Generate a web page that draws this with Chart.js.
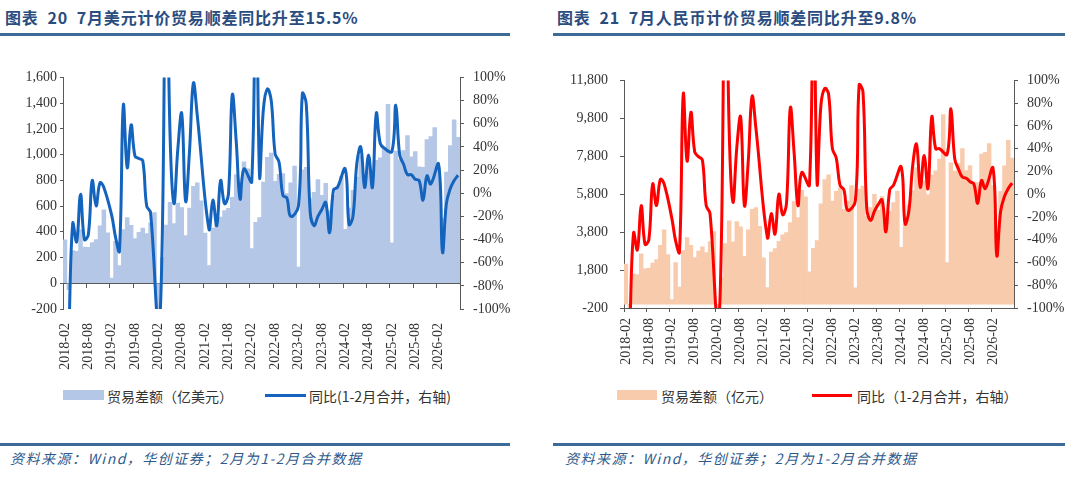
<!DOCTYPE html>
<html lang="zh-CN">
<head>
<meta charset="utf-8">
<title>贸易顺差同比</title>
<script src="https://cdn.jsdelivr.net/npm/chart.js@4.4.1/dist/chart.umd.min.js"></script>
<style>
  html, body { margin: 0; padding: 0; background: #fff; }
  body { width: 1080px; height: 488px; position: relative; overflow: hidden;
         font-family: "Noto Sans CJK SC", sans-serif; }
  .abs { position: absolute; }
  .title { top: 7px; font-size: 16px; font-weight: bold; color: #2B4C7E;
           letter-spacing: 0.8px; white-space: nowrap; line-height: 20px; }
  .rule { height: 3px; background: #3D6A97; }
  .lg-text { top: 388px; font-size: 14px; color: #333; line-height: 16px; white-space: nowrap; }
  .source { top: 449px; font-size: 14px; font-style: italic; color: #2F5A8C;
            letter-spacing: 1.5px; white-space: nowrap; line-height: 18px; }
  canvas { position: absolute; top: 60px; }
</style>
</head>
<body>

<div class="abs title" style="left:5px;">图表&nbsp;&nbsp;20&nbsp;&nbsp;7月美元计价贸易顺差同比升至15.5%</div>
<div class="abs rule" style="left:0; top:33px; width:510px;"></div>
<canvas id="usdChart" width="530" height="310" style="left:0;"></canvas>
<div class="abs" style="left:63px; top:390px; width:41px; height:10px; background:#B4C7E7;"></div>
<div class="abs lg-text" style="left:107px;">贸易差额（亿美元）</div>
<div class="abs" style="left:265px; top:394px; width:41px; height:3px; background:#1464BE;"></div>
<div class="abs lg-text" style="left:309px;">同比(1-2月合并，右轴)</div>
<div class="abs rule" style="left:0; top:443px; width:510px;"></div>
<div class="abs source" style="left:10px;">资料来源：Wind，华创证券；2月为1-2月合并数据</div>

<div class="abs title" style="left:557px;">图表&nbsp;&nbsp;21&nbsp;&nbsp;7月人民币计价贸易顺差同比升至9.8%</div>
<div class="abs rule" style="left:553px; top:33px; width:512px;"></div>
<canvas id="cnyChart" width="530" height="310" style="left:540px;"></canvas>
<div class="abs" style="left:617px; top:390px; width:40px; height:10px; background:#F8CBAD;"></div>
<div class="abs lg-text" style="left:661px;">贸易差额（亿元）</div>
<div class="abs" style="left:812px; top:394px; width:40px; height:3px; background:#FF0000;"></div>
<div class="abs lg-text" style="left:857px;">同比（1-2月合并，右轴）</div>
<div class="abs rule" style="left:553px; top:443px; width:512px;"></div>
<div class="abs source" style="left:565px;">资料来源：Wind，华创证券；2月为1-2月合并数据</div>

<script>
// 月份（1-2月合并，1月同比为空）
const months = [
  '2018-02','2018-03','2018-04','2018-05','2018-06','2018-07','2018-08','2018-09','2018-10','2018-11','2018-12',
  '2019-01','2019-02','2019-03','2019-04','2019-05','2019-06','2019-07','2019-08','2019-09','2019-10','2019-11','2019-12',
  '2020-01','2020-02','2020-03','2020-04','2020-05','2020-06','2020-07','2020-08','2020-09','2020-10','2020-11','2020-12',
  '2021-01','2021-02','2021-03','2021-04','2021-05','2021-06','2021-07','2021-08','2021-09','2021-10','2021-11','2021-12',
  '2022-01','2022-02','2022-03','2022-04','2022-05','2022-06','2022-07','2022-08','2022-09','2022-10','2022-11','2022-12',
  '2023-01','2023-02','2023-03','2023-04','2023-05','2023-06','2023-07','2023-08','2023-09','2023-10','2023-11','2023-12',
  '2024-01','2024-02','2024-03','2024-04','2024-05','2024-06','2024-07','2024-08','2024-09','2024-10','2024-11','2024-12',
  '2025-01','2025-02','2025-03','2025-04','2025-05','2025-06','2025-07','2025-08','2025-09','2025-10','2025-11','2025-12',
  '2026-01','2026-02','2026-03','2026-04','2026-05','2026-06','2026-07'
];

// 贸易差额（亿美元）
const usdBalance = [
  337, -50, 254, 249, 416, 281, 279, 317, 340, 447, 570,
  392, 41, 326, 138, 417, 510, 451, 348, 396, 428, 387, 470,
  550, -600, 199, 453, 629, 464, 623, 589, 370, 584, 754, 781,
  640, 390, 138, 428, 455, 515, 565, 583, 667, 845, 717, 944,
  890, 270, 474, 511, 787, 979, 1012, 793, 847, 852, 698, 780,
  910, 125, 882, 902, 658, 706, 806, 683, 776, 565, 684, 753,
  830, 420, 585, 723, 826, 990, 846, 910, 817, 956, 975, 1048,
  1390, 315, 1027, 961, 1032, 1147, 982, 1023, 905, 901, 1117, 1140,
  1210, 900, 505, 865, 1070, 1270, 1134
];

// 同比（%，美元计价）
const usdYoy = [
  null, -121, -26, -42, -1, -40, -36, 11, -11, 9, 5,
  null, -19, -38, -50, 76, 22, 59, 32, 30, 28, -11, -17,
  null, -116, -39, 228, 51, -9, 38, 69, -7, 36, 95, 67,
  null, null, -31, -6, -28, 11, -9, -1, 85, 45, -5, 21,
  null, 10, 243, 15, 73, 90, 80, 34, 27, -2, -4, -20,
  null, -11, 86, 77, -16, -28, -20, -14, -8, -34, 3, 5,
  null, 21, -27, -20, 26, 40, 5, 33, 5, 69, 43, 39,
  null, 36, 76, 33, 25, 16, 16, 12, 11, -6, 15, 8,
  null, 25, -51, -9, 4, 11, 15.5
];

// 贸易差额（亿元）
const cnyBalance = [
  2110, -320, 1600, 1560, 2660, 1860, 1900, 2170, 2350, 3100, 3920,
  2620, 250, 2190, 900, 2830, 3510, 3100, 2460, 2800, 3030, 2720, 3300,
  3830, -4200, 1400, 3200, 4400, 3290, 4360, 4080, 2520, 3920, 5000, 5100,
  4100, 2450, 880, 2750, 2930, 3320, 3660, 3780, 4310, 5410, 4570, 6010,
  5660, 1710, 2950, 3350, 5290, 6570, 6820, 5440, 5950, 6130, 5000, 5440,
  6250, 860, 6070, 6230, 4620, 5090, 5790, 4950, 5670, 4130, 4910, 5360,
  5960, 3000, 4210, 5230, 5980, 7200, 6140, 6500, 5780, 6810, 7030, 7650,
  10000, 2200, 7450, 7020, 7430, 8200, 7040, 7310, 6440, 6410, 7910, 8010,
  8470, 6260, 3490, 5950, 7300, 8640, 7700
];

// 同比（%，人民币计价）
const cnyYoy = [
  null, -119, -34, -49, -10, -44, -40, 9, -10, 13, 9,
  null, -21, -41, -51, 88, 29, 72, 37, 33, 30, -10, -17,
  null, -116, -36, 256, 57, -7, 41, 68, -10, 29, 86, 58,
  null, null, -38, -17, -35, 0, -18, -8, 76, 36, -10, 19,
  null, 8, 226, 10, 78, 93, 88, 40, 32, 8, 4, -14,
  null, -6, 96, 90, -13, -23, -15, -9, -5, -33, 4, 8,
  null, 24, -26, -15, 25, 44, 6, 34, 5, 68, 40, 40,
  null, 35, 75, 31, 22, 15, 14, 11, 9, -8, 12, 5,
  null, 23, -54, -15, -2, 5, 9.8
];

const axisColor = '#595959';
const tickFont = { family: "'Liberation Serif', 'Times New Roman', serif", size: 14 };
const tickColor = '#333333';

function everySixth(ctx) {
  return ctx.index !== undefined && ctx.index % 6 === 0 ? axisColor : 'rgba(0,0,0,0)';
}

function drawPanel(canvasId, p) {
  const scales = {
    x: {
      type: 'category',
      offset: true,
      grid: {
        display: !p.zeroAxis,
        drawOnChartArea: false,
        offset: true,
        tickLength: 4,
        color: everySixth
      },
      border: { display: !p.zeroAxis, color: axisColor },
      ticks: {
        autoSkip: false,
        maxRotation: 90,
        minRotation: 90,
        padding: p.xPad,
        font: tickFont,
        color: tickColor,
        callback: function (v, i) { return i % 6 === 0 ? this.getLabelForValue(v) : ''; }
      },
      afterFit: s => { s.height = p.xHeight; }
    },
    y: {
      position: 'left',
      min: p.yMin,
      max: p.yMax,
      grid: { drawOnChartArea: false, tickLength: p.yTick, color: axisColor },
      border: { color: axisColor },
      ticks: { stepSize: p.yStep, font: tickFont, color: tickColor, padding: p.yPad },
      afterFit: s => { s.width = p.leftW; }
    },
    y1: {
      position: 'right',
      min: -100,
      max: 100,
      grid: { drawOnChartArea: false, tickLength: 4, color: axisColor },
      border: { color: axisColor },
      ticks: { stepSize: 20, font: tickFont, color: tickColor, padding: 9,
               callback: v => v + '%' },
      afterFit: s => { s.width = p.rightW; }
    }
  };

  // 左图横轴穿过 0 值
  if (p.zeroAxis) {
    scales.x2 = {
      type: 'category',
      axis: 'x',
      labels: months,
      position: { y: 0 },
      offset: true,
      grid: { drawOnChartArea: false, offset: true, tickLength: 4, color: everySixth },
      border: { color: axisColor },
      ticks: { display: false }
    };
  }

  return new Chart(document.getElementById(canvasId).getContext('2d'), {
    type: 'bar',
    data: {
      labels: months,
      datasets: [
        {
          type: 'line',
          label: p.lineLabel,
          data: p.yoy,
          yAxisID: 'y1',
          borderColor: p.lineColor,
          borderWidth: 3,
          pointRadius: 0,
          tension: 0.4,
          spanGaps: true,
          capBezierPoints: false,
          order: 0
        },
        {
          type: 'bar',
          label: p.barLabel,
          data: p.bars,
          yAxisID: 'y',
          backgroundColor: p.barColor,
          borderWidth: 0,
          barPercentage: 1,
          categoryPercentage: 1,
          order: 1
        }
      ]
    },
    options: {
      responsive: false,
      animation: false,
      layout: { padding: { top: 16, left: 0, right: 0, bottom: 0 } },
      elements: { line: { capBezierPoints: false } },
      plugins: { legend: { display: false }, tooltip: { enabled: false } },
      scales: scales
    }
  });
}

drawPanel('usdChart', {
  bars: usdBalance, yoy: usdYoy,
  barLabel: '贸易差额（亿美元）', lineLabel: '同比(1-2月合并，右轴)',
  barColor: '#B4C7E7', lineColor: '#1464BE',
  yMin: -200, yMax: 1600, yStep: 200,
  leftW: 63, rightW: 70, yTick: 3, yPad: 3,
  xHeight: 61, xPad: 10, zeroAxis: true
});

drawPanel('cnyChart', {
  bars: cnyBalance, yoy: cnyYoy,
  barLabel: '贸易差额（亿元）', lineLabel: '同比（1-2月合并，右轴）',
  barColor: '#F8CBAD', lineColor: '#FF0000',
  yMin: -200, yMax: 11800, yStep: 2000,
  leftW: 84, rightW: 56, yTick: 4, yPad: 12,
  xHeight: 62, xPad: 6, zeroAxis: false
});
</script>
</body>
</html>
